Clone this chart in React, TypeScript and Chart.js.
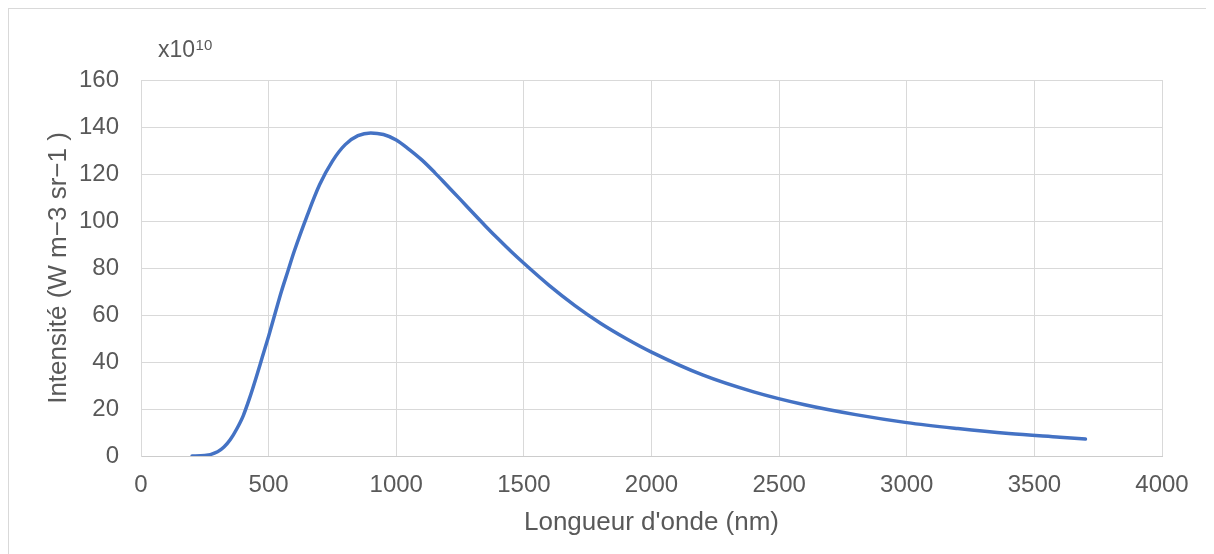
import React, { useEffect, useRef } from "react";
import { Chart, registerables } from "chart.js";

Chart.register(...registerables);

const wavelengths = [
  200, 250, 300, 325, 350, 375, 400, 425, 450, 475, 500, 525, 550, 575, 600, 650,
  700, 750, 800, 850, 900, 950, 1000, 1050, 1100, 1150, 1200, 1250, 1300, 1350,
  1400, 1450, 1500, 1600, 1700, 1800, 1900, 2000, 2200, 2400, 2600, 2800, 3000,
  3200, 3400, 3600, 3700,
];
const intensities = [
  0, 0.2, 1.8, 3.8, 7, 11.5, 17, 24.5, 33, 42, 51, 60.5, 70, 78.5, 87, 102,
  115.5, 125.5, 132.5, 136.3, 137.5, 136.8, 134.5, 130.5, 126, 120.7, 115, 109.3, 103.5, 97.8,
  92.3, 87, 82, 72.5, 64, 56.5, 50, 44.2, 34.5, 27.3, 21.8, 17.6, 14.2,
  11.7, 9.6, 8.0, 7.2,
];
const xTitle = "Longueur d'onde (nm)";
const yTitle = "Intensité (W m−3 sr−1 )";
const multiplierBase = "x10";
const multiplierExp = "10";

const FONT = "'Liberation Sans', Arial, sans-serif";
const TEXT = "#595959";
const GRID = "#d9d9d9";

const multiplierPlugin = {
  id: "multiplier",
  afterDraw(chart: any) {
    const ctx = chart.ctx;
    ctx.save();
    ctx.fillStyle = TEXT;
    ctx.textBaseline = "alphabetic";
    ctx.textAlign = "left";
    ctx.font = `23px ${FONT}`;
    const x0 = 149;
    ctx.fillText(multiplierBase, x0, 47.7);
    const w = ctx.measureText(multiplierBase).width;
    ctx.font = `15px ${FONT}`;
    ctx.fillText(multiplierExp, x0 + w + 0.5, 41);
    ctx.restore();
  },
};

export default function App() {
  const ref = useRef<HTMLCanvasElement | null>(null);

  useEffect(() => {
    document.documentElement.style.overflow = "hidden";
    document.body.style.overflow = "hidden";
    if (!ref.current) return;
    const chart = new Chart(ref.current, {
      type: "line",
      data: {
        datasets: [
          {
            data: wavelengths.map((x, i) => ({ x, y: intensities[i] })),
            borderColor: "#4472C4",
            borderWidth: 3.5,
            pointRadius: 0,
            fill: false,
            cubicInterpolationMode: "monotone",
            borderCapStyle: "round",
            borderJoinStyle: "round",
          },
        ],
      },
      options: {
        animation: false,
        responsive: false,
        maintainAspectRatio: false,
        layout: { padding: { left: 0, right: 52, top: 71, bottom: 0 } },
        plugins: { legend: { display: false }, tooltip: { enabled: false } },
        scales: {
          x: {
            type: "linear",
            min: 0,
            max: 4000,
            afterFit: (s: any) => {
              s.height = 98;
            },
            ticks: {
              stepSize: 500,
              padding: 15,
              color: TEXT,
              font: { family: FONT, size: 24 },
              maxRotation: 0,
              callback: (v: any) => String(v),
            },
            grid: { color: GRID, lineWidth: 1, drawTicks: false },
            border: { color: "#cccccc", width: 1 },
            title: {
              display: true,
              text: xTitle,
              color: TEXT,
              font: { family: FONT, size: 26 },
              padding: { top: 0, bottom: 15.5 },
            },
          },
          y: {
            min: 0,
            max: 160,
            afterFit: (s: any) => {
              s.width = 132;
            },
            ticks: {
              stepSize: 20,
              padding: 22,
              color: TEXT,
              font: { family: FONT, size: 24 },
              callback: (v: any) => String(v),
            },
            grid: { color: GRID, lineWidth: 1, drawTicks: false },
            border: { color: GRID, width: 1 },
            title: {
              display: true,
              text: yTitle,
              color: TEXT,
              font: { family: FONT, size: 26 },
              padding: { top: 34, bottom: 0 },
            },
          },
        },
      },
      plugins: [multiplierPlugin],
    });
    return () => chart.destroy();
  }, []);

  return (
    <div
      style={{
        border: `1px solid ${GRID}`,
        width: 1230,
        height: 560,
        position: "relative",
        background: "#fff",
      }}
    >
      <canvas ref={ref} width={1205} height={545} style={{ display: "block", width: 1205, height: 545 }} />
    </div>
  );
}
